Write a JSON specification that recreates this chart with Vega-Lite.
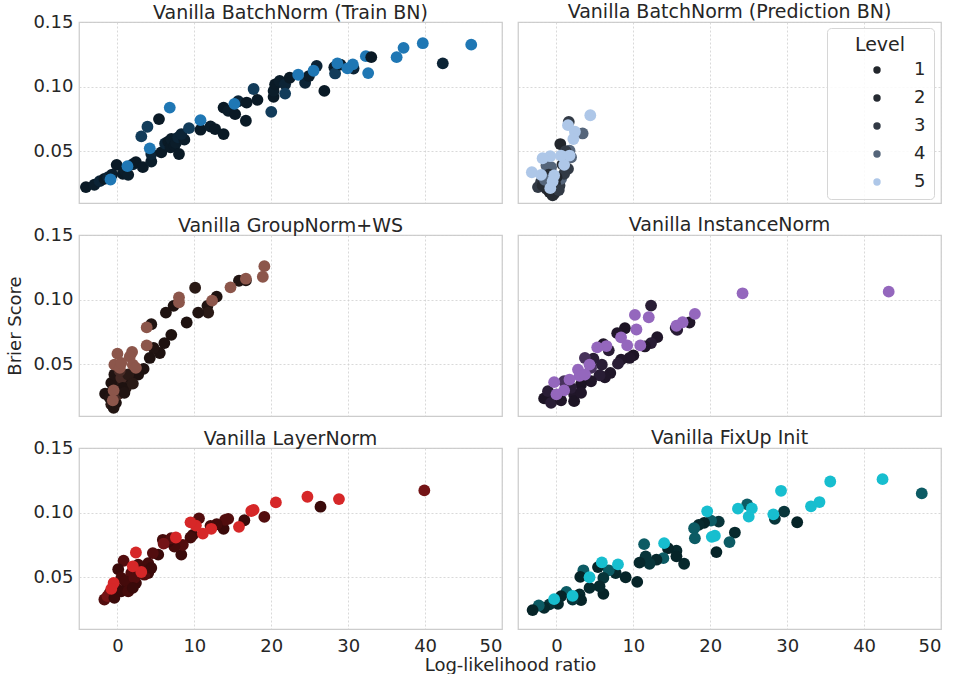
{
"$schema": "https://vega.github.io/schema/vega-lite/v6.json",
"background": "white",
"padding": {"left": 6, "top": 2, "right": 5, "bottom": 0},
"datasets": {
"pts": [
{"panel":"P1","x":-4.1,"y":0.0223,"level":1},{"panel":"P1","x":-3.0,"y":0.0241,"level":2},{"panel":"P1","x":-2.3,"y":0.0269,"level":3},{"panel":"P1","x":-1.7,"y":0.0287,"level":1},{"panel":"P1","x":-1.2,"y":0.030,"level":3},{"panel":"P1","x":-0.7,"y":0.032,"level":2},{"panel":"P1","x":-0.1,"y":0.0395,"level":1},{"panel":"P1","x":0.7,"y":0.0326,"level":1},{"panel":"P1","x":1.0,"y":0.035,"level":2},{"panel":"P1","x":1.4,"y":0.0318,"level":2},{"panel":"P1","x":2.0,"y":0.04,"level":3},{"panel":"P1","x":2.4,"y":0.0415,"level":1},{"panel":"P1","x":3.3,"y":0.0377,"level":1},{"panel":"P1","x":4.4,"y":0.0421,"level":2},{"panel":"P1","x":4.4,"y":0.0479,"level":3},{"panel":"P1","x":3.1,"y":0.0615,"level":4},{"panel":"P1","x":3.9,"y":0.069,"level":4},{"panel":"P1","x":5.4,"y":0.0749,"level":1},{"panel":"P1","x":5.7,"y":0.0492,"level":1},{"panel":"P1","x":6.2,"y":0.056,"level":3},{"panel":"P1","x":6.6,"y":0.0575,"level":1},{"panel":"P1","x":6.9,"y":0.053,"level":1},{"panel":"P1","x":7.0,"y":0.0595,"level":2},{"panel":"P1","x":7.4,"y":0.0544,"level":1},{"panel":"P1","x":7.6,"y":0.0565,"level":2},{"panel":"P1","x":7.9,"y":0.0608,"level":3},{"panel":"P1","x":8.0,"y":0.0479,"level":1},{"panel":"P1","x":8.7,"y":0.059,"level":2},{"panel":"P1","x":8.3,"y":0.0633,"level":3},{"panel":"P1","x":9.3,"y":0.0679,"level":4},{"panel":"P1","x":10.8,"y":0.0667,"level":1},{"panel":"P1","x":12.1,"y":0.0692,"level":2},{"panel":"P1","x":12.7,"y":0.0672,"level":1},{"panel":"P1","x":13.8,"y":0.0633,"level":1},{"panel":"P1","x":13.8,"y":0.0838,"level":1},{"panel":"P1","x":14.4,"y":0.0813,"level":2},{"panel":"P1","x":15.3,"y":0.0787,"level":1},{"panel":"P1","x":15.7,"y":0.0887,"level":3},{"panel":"P1","x":16.7,"y":0.0736,"level":1},{"panel":"P1","x":16.8,"y":0.0877,"level":1},{"panel":"P1","x":17.7,"y":0.0982,"level":4},{"panel":"P1","x":18.2,"y":0.0898,"level":1},{"panel":"P1","x":20.0,"y":0.0805,"level":4},{"panel":"P1","x":20.3,"y":0.0921,"level":1},{"panel":"P1","x":20.3,"y":0.0967,"level":2},{"panel":"P1","x":20.5,"y":0.1018,"level":1},{"panel":"P1","x":21.1,"y":0.1044,"level":2},{"panel":"P1","x":21.8,"y":0.1018,"level":3},{"panel":"P1","x":21.8,"y":0.0946,"level":4},{"panel":"P1","x":22.4,"y":0.1069,"level":1},{"panel":"P1","x":24.4,"y":0.103,"level":3},{"panel":"P1","x":24.9,"y":0.1082,"level":2},{"panel":"P1","x":25.9,"y":0.116,"level":3},{"panel":"P1","x":26.9,"y":0.0967,"level":1},{"panel":"P1","x":28.2,"y":0.115,"level":2},{"panel":"P1","x":28.3,"y":0.1102,"level":4},{"panel":"P1","x":29.0,"y":0.117,"level":1},{"panel":"P1","x":30.7,"y":0.114,"level":3},{"panel":"P1","x":42.3,"y":0.118,"level":3},
{"panel":"P1","x":46.0,"y":0.1325,"level":5},{"panel":"P1","x":39.7,"y":0.1336,"level":5},{"panel":"P1","x":37.2,"y":0.130,"level":5},{"panel":"P1","x":36.3,"y":0.1228,"level":5},{"panel":"P1","x":32.6,"y":0.1105,"level":5},{"panel":"P1","x":32.3,"y":0.1236,"level":5},{"panel":"P1","x":30.6,"y":0.1172,"level":5},{"panel":"P1","x":29.9,"y":0.1141,"level":5},{"panel":"P1","x":28.6,"y":0.118,"level":5},{"panel":"P1","x":25.5,"y":0.1123,"level":5},{"panel":"P1","x":23.5,"y":0.1092,"level":5},{"panel":"P1","x":15.2,"y":0.0867,"level":5},{"panel":"P1","x":10.8,"y":0.0741,"level":5},{"panel":"P1","x":6.8,"y":0.0838,"level":5},{"panel":"P1","x":4.2,"y":0.0523,"level":5},{"panel":"P1","x":1.3,"y":0.0385,"level":5},{"panel":"P1","x":-0.9,"y":0.0282,"level":5},
{"panel":"P1","x":33.0,"y":0.1228,"level":1},

{"panel":"P2","x":1.6,"y":0.0728,"level":3},{"panel":"P2","x":3.4,"y":0.0638,"level":4},{"panel":"P2","x":0.5,"y":0.0556,"level":1},{"panel":"P2","x":1.7,"y":0.0505,"level":4},{"panel":"P2","x":1.3,"y":0.0441,"level":3},{"panel":"P2","x":-0.7,"y":0.0377,"level":4},{"panel":"P2","x":-1.3,"y":0.039,"level":4},{"panel":"P2","x":-2.0,"y":0.0262,"level":3},{"panel":"P2","x":-1.3,"y":0.021,"level":2},{"panel":"P2","x":-0.3,"y":0.0172,"level":2},{"panel":"P2","x":0.4,"y":0.0236,"level":3},{"panel":"P2","x":0.6,"y":0.0287,"level":4},{"panel":"P2","x":-2.4,"y":0.0223,"level":3},{"panel":"P2","x":1.5,"y":0.0364,"level":3},{"panel":"P2","x":1.9,"y":0.0454,"level":4},{"panel":"P2","x":1.0,"y":0.0326,"level":3},{"panel":"P2","x":-0.9,"y":0.0185,"level":1},{"panel":"P2","x":-1.8,"y":0.0236,"level":2},{"panel":"P2","x":-0.5,"y":0.016,"level":2},{"panel":"P2","x":0.0,"y":0.030,"level":1},{"panel":"P2","x":-1.0,"y":0.032,"level":2},{"panel":"P2","x":0.8,"y":0.040,"level":2},{"panel":"P2","x":-0.2,"y":0.025,"level":1},{"panel":"P2","x":1.2,"y":0.050,"level":3},{"panel":"P2","x":-1.5,"y":0.028,"level":4},{"panel":"P2","x":0.3,"y":0.020,"level":3},
{"panel":"P2","x":4.4,"y":0.0779,"level":5},{"panel":"P2","x":1.5,"y":0.0702,"level":5},{"panel":"P2","x":2.4,"y":0.0651,"level":5},{"panel":"P2","x":2.2,"y":0.0595,"level":5},{"panel":"P2","x":1.0,"y":0.0395,"level":5},{"panel":"P2","x":0.6,"y":0.0467,"level":5},{"panel":"P2","x":-0.8,"y":0.0462,"level":5},{"panel":"P2","x":-1.8,"y":0.0446,"level":5},{"panel":"P2","x":-3.2,"y":0.0338,"level":5},{"panel":"P2","x":-2.0,"y":0.0318,"level":5},{"panel":"P2","x":-0.3,"y":0.0313,"level":5},{"panel":"P2","x":-0.5,"y":0.0267,"level":5},{"panel":"P2","x":-0.8,"y":0.0215,"level":5},{"panel":"P2","x":1.7,"y":0.0467,"level":5},

{"panel":"P3","x":16.7,"y":0.1149,"level":1},{"panel":"P3","x":15.8,"y":0.1146,"level":2},{"panel":"P3","x":10.1,"y":0.1092,"level":3},{"panel":"P3","x":12.9,"y":0.1023,"level":1},{"panel":"P3","x":11.7,"y":0.0952,"level":2},{"panel":"P3","x":11.8,"y":0.09,"level":3},{"panel":"P3","x":10.5,"y":0.09,"level":2},{"panel":"P3","x":7.3,"y":0.0952,"level":1},{"panel":"P3","x":6.3,"y":0.09,"level":1},{"panel":"P3","x":9.0,"y":0.0823,"level":1},{"panel":"P3","x":7.0,"y":0.0728,"level":1},{"panel":"P3","x":6.1,"y":0.0664,"level":1},{"panel":"P3","x":5.5,"y":0.0587,"level":1},{"panel":"P3","x":4.7,"y":0.0626,"level":2},{"panel":"P3","x":4.4,"y":0.081,"level":2},{"panel":"P3","x":4.2,"y":0.0549,"level":1},{"panel":"P3","x":3.4,"y":0.0464,"level":1},{"panel":"P3","x":2.7,"y":0.0421,"level":1},{"panel":"P3","x":1.6,"y":0.0369,"level":2},{"panel":"P3","x":1.1,"y":0.0318,"level":3},{"panel":"P3","x":0.05,"y":0.0369,"level":3},{"panel":"P3","x":-0.8,"y":0.0356,"level":1},{"panel":"P3","x":-0.4,"y":0.0421,"level":2},{"panel":"P3","x":0.5,"y":0.0395,"level":4},{"panel":"P3","x":-1.6,"y":0.0272,"level":1},{"panel":"P3","x":-1.0,"y":0.0241,"level":2},{"panel":"P3","x":-0.8,"y":0.019,"level":3},{"panel":"P3","x":-0.2,"y":0.0202,"level":1},{"panel":"P3","x":0.05,"y":0.0267,"level":4},{"panel":"P3","x":0.7,"y":0.0318,"level":1},{"panel":"P3","x":1.4,"y":0.0421,"level":3},{"panel":"P3","x":-0.5,"y":0.0164,"level":2},{"panel":"P3","x":0.3,"y":0.045,"level":4},{"panel":"P3","x":-0.6,"y":0.030,"level":2},{"panel":"P3","x":2.0,"y":0.035,"level":3},{"panel":"P3","x":0.9,"y":0.028,"level":2},
{"panel":"P3","x":19.1,"y":0.1259,"level":5},{"panel":"P3","x":18.9,"y":0.1177,"level":5},{"panel":"P3","x":16.7,"y":0.1162,"level":5},{"panel":"P3","x":14.7,"y":0.1095,"level":5},{"panel":"P3","x":12.3,"y":0.0992,"level":5},{"panel":"P3","x":8.0,"y":0.1018,"level":5},{"panel":"P3","x":8.0,"y":0.0979,"level":5},{"panel":"P3","x":3.8,"y":0.0785,"level":5},{"panel":"P3","x":3.8,"y":0.0646,"level":5},{"panel":"P3","x":1.9,"y":0.0595,"level":5},{"panel":"P3","x":1.6,"y":0.0559,"level":5},{"panel":"P3","x":0.0,"y":0.0582,"level":5},{"panel":"P3","x":2.0,"y":0.0497,"level":5},{"panel":"P3","x":2.4,"y":0.0472,"level":5},{"panel":"P3","x":-0.4,"y":0.0497,"level":5},{"panel":"P3","x":0.3,"y":0.0472,"level":5},{"panel":"P3","x":-0.5,"y":0.0298,"level":5},{"panel":"P3","x":-0.6,"y":0.0221,"level":5},{"panel":"P3","x":0.5,"y":0.051,"level":5},

{"panel":"P4","x":12.3,"y":0.0954,"level":3},{"panel":"P4","x":17.3,"y":0.0823,"level":2},{"panel":"P4","x":15.7,"y":0.0767,"level":3},{"panel":"P4","x":15.5,"y":0.078,"level":3},{"panel":"P4","x":8.9,"y":0.0779,"level":1},{"panel":"P4","x":7.9,"y":0.0741,"level":2},{"panel":"P4","x":13.1,"y":0.071,"level":2},{"panel":"P4","x":12.3,"y":0.0664,"level":3},{"panel":"P4","x":11.5,"y":0.0638,"level":2},{"panel":"P4","x":10.0,"y":0.0569,"level":1},{"panel":"P4","x":9.5,"y":0.0549,"level":2},{"panel":"P4","x":8.4,"y":0.0536,"level":2},{"panel":"P4","x":8.0,"y":0.0505,"level":3},{"panel":"P4","x":7.0,"y":0.0433,"level":2},{"panel":"P4","x":6.3,"y":0.04,"level":2},{"panel":"P4","x":5.9,"y":0.0497,"level":3},{"panel":"P4","x":5.6,"y":0.0415,"level":3},{"panel":"P4","x":6.8,"y":0.0608,"level":3},{"panel":"P4","x":6.1,"y":0.0656,"level":2},{"panel":"P4","x":4.8,"y":0.0544,"level":3},{"panel":"P4","x":3.7,"y":0.0549,"level":4},{"panel":"P4","x":4.5,"y":0.0472,"level":4},{"panel":"P4","x":4.5,"y":0.0369,"level":2},{"panel":"P4","x":3.2,"y":0.0344,"level":1},{"panel":"P4","x":2.3,"y":0.0267,"level":2},{"panel":"P4","x":1.9,"y":0.0318,"level":3},{"panel":"P4","x":1.0,"y":0.0369,"level":4},{"panel":"P4","x":0.2,"y":0.0254,"level":4},{"panel":"P4","x":-0.7,"y":0.0228,"level":2},{"panel":"P4","x":-1.6,"y":0.0236,"level":1},{"panel":"P4","x":-1.1,"y":0.0292,"level":3},{"panel":"P4","x":-0.7,"y":0.0202,"level":3},{"panel":"P4","x":0.6,"y":0.0221,"level":2},{"panel":"P4","x":2.3,"y":0.0215,"level":1},{"panel":"P4","x":3.2,"y":0.0279,"level":2},
{"panel":"P4","x":43.2,"y":0.1062,"level":5},{"panel":"P4","x":24.2,"y":0.1049,"level":5},{"panel":"P4","x":18.0,"y":0.089,"level":5},{"panel":"P4","x":16.4,"y":0.0825,"level":5},{"panel":"P4","x":15.6,"y":0.0798,"level":5},{"panel":"P4","x":10.2,"y":0.0882,"level":5},{"panel":"P4","x":12.0,"y":0.0864,"level":5},{"panel":"P4","x":10.4,"y":0.0769,"level":5},{"panel":"P4","x":8.4,"y":0.0708,"level":5},{"panel":"P4","x":9.2,"y":0.0646,"level":5},{"panel":"P4","x":10.9,"y":0.0646,"level":5},{"panel":"P4","x":6.5,"y":0.0641,"level":5},{"panel":"P4","x":5.3,"y":0.0631,"level":5},{"panel":"P4","x":4.3,"y":0.0497,"level":5},{"panel":"P4","x":3.0,"y":0.041,"level":5},{"panel":"P4","x":2.8,"y":0.0459,"level":5},{"panel":"P4","x":1.7,"y":0.0382,"level":5},{"panel":"P4","x":-0.3,"y":0.0362,"level":5},{"panel":"P4","x":1.0,"y":0.0298,"level":5},{"panel":"P4","x":3.7,"y":0.0421,"level":5},{"panel":"P4","x":0.0,"y":0.0267,"level":5},

{"panel":"P5","x":39.9,"y":0.1172,"level":4},{"panel":"P5","x":26.4,"y":0.1046,"level":1},{"panel":"P5","x":19.1,"y":0.0967,"level":3},{"panel":"P5","x":16.5,"y":0.0941,"level":1},{"panel":"P5","x":13.8,"y":0.0875,"level":1},{"panel":"P5","x":14.4,"y":0.0952,"level":3},{"panel":"P5","x":14.0,"y":0.0944,"level":3},{"panel":"P5","x":12.9,"y":0.091,"level":2},{"panel":"P5","x":12.1,"y":0.0898,"level":2},{"panel":"P5","x":10.6,"y":0.0956,"level":3},{"panel":"P5","x":9.8,"y":0.0828,"level":1},{"panel":"P5","x":9.5,"y":0.0808,"level":2},{"panel":"P5","x":8.3,"y":0.0675,"level":1},{"panel":"P5","x":8.5,"y":0.0751,"level":3},{"panel":"P5","x":7.4,"y":0.0738,"level":2},{"panel":"P5","x":6.6,"y":0.0777,"level":1},{"panel":"P5","x":5.9,"y":0.079,"level":2},{"panel":"P5","x":7.0,"y":0.0802,"level":3},{"panel":"P5","x":6.0,"y":0.076,"level":4},{"panel":"P5","x":5.3,"y":0.0675,"level":1},{"panel":"P5","x":4.6,"y":0.0687,"level":3},{"panel":"P5","x":4.0,"y":0.061,"level":2},{"panel":"P5","x":4.0,"y":0.0533,"level":1},{"panel":"P5","x":3.5,"y":0.052,"level":3},{"panel":"P5","x":2.7,"y":0.0598,"level":2},{"panel":"P5","x":1.8,"y":0.0533,"level":3},{"panel":"P5","x":1.4,"y":0.0456,"level":4},{"panel":"P5","x":2.4,"y":0.0456,"level":1},{"panel":"P5","x":0.8,"y":0.0628,"level":3},{"panel":"P5","x":0.1,"y":0.0562,"level":1},{"panel":"P5","x":0.5,"y":0.0495,"level":2},{"panel":"P5","x":1.0,"y":0.047,"level":2},{"panel":"P5","x":-0.2,"y":0.0418,"level":3},{"panel":"P5","x":0.5,"y":0.0392,"level":1},{"panel":"P5","x":-1.0,"y":0.0379,"level":2},{"panel":"P5","x":-1.7,"y":0.0328,"level":3},{"panel":"P5","x":-1.3,"y":0.0354,"level":4},{"panel":"P5","x":-0.4,"y":0.0341,"level":1},{"panel":"P5","x":1.4,"y":0.0392,"level":2},{"panel":"P5","x":2.2,"y":0.0495,"level":3},{"panel":"P5","x":3.1,"y":0.0559,"level":2},{"panel":"P5","x":4.4,"y":0.0572,"level":1},{"panel":"P5","x":2.0,"y":0.0418,"level":1},
{"panel":"P5","x":28.8,"y":0.1105,"level":5},{"panel":"P5","x":24.7,"y":0.1123,"level":5},{"panel":"P5","x":20.6,"y":0.1079,"level":5},{"panel":"P5","x":17.7,"y":0.1021,"level":5},{"panel":"P5","x":17.4,"y":0.1013,"level":5},{"panel":"P5","x":15.8,"y":0.089,"level":5},{"panel":"P5","x":12.2,"y":0.0875,"level":5},{"panel":"P5","x":11.1,"y":0.0838,"level":5},{"panel":"P5","x":10.2,"y":0.09,"level":5},{"panel":"P5","x":9.5,"y":0.0925,"level":5},{"panel":"P5","x":7.6,"y":0.0808,"level":5},{"panel":"P5","x":2.4,"y":0.0692,"level":5},{"panel":"P5","x":3.1,"y":0.0541,"level":5},{"panel":"P5","x":2.0,"y":0.0585,"level":5},{"panel":"P5","x":-0.5,"y":0.0456,"level":5},{"panel":"P5","x":-0.8,"y":0.041,"level":5},

{"panel":"P6","x":47.5,"y":0.1149,"level":4},{"panel":"P6","x":31.3,"y":0.0926,"level":1},{"panel":"P6","x":29.6,"y":0.1008,"level":3},{"panel":"P6","x":28.4,"y":0.0952,"level":3},{"panel":"P6","x":24.8,"y":0.1064,"level":4},{"panel":"P6","x":23.2,"y":0.0846,"level":2},{"panel":"P6","x":22.5,"y":0.0772,"level":4},{"panel":"P6","x":20.8,"y":0.0695,"level":1},{"panel":"P6","x":21.1,"y":0.0931,"level":3},{"panel":"P6","x":20.1,"y":0.0938,"level":4},{"panel":"P6","x":19.2,"y":0.0921,"level":1},{"panel":"P6","x":18.5,"y":0.0905,"level":2},{"panel":"P6","x":17.9,"y":0.0879,"level":4},{"panel":"P6","x":18.0,"y":0.0802,"level":4},{"panel":"P6","x":16.6,"y":0.0605,"level":2},{"panel":"P6","x":15.6,"y":0.0705,"level":2},{"panel":"P6","x":15.6,"y":0.0662,"level":1},{"panel":"P6","x":14.5,"y":0.0725,"level":1},{"panel":"P6","x":13.9,"y":0.0648,"level":4},{"panel":"P6","x":13.0,"y":0.0636,"level":2},{"panel":"P6","x":12.1,"y":0.0605,"level":3},{"panel":"P6","x":11.6,"y":0.0662,"level":3},{"panel":"P6","x":11.4,"y":0.0756,"level":4},{"panel":"P6","x":10.8,"y":0.0613,"level":2},{"panel":"P6","x":10.5,"y":0.0464,"level":1},{"panel":"P6","x":9.0,"y":0.05,"level":1},{"panel":"P6","x":7.7,"y":0.0533,"level":2},{"panel":"P6","x":6.8,"y":0.0554,"level":4},{"panel":"P6","x":6.1,"y":0.0495,"level":3},{"panel":"P6","x":6.1,"y":0.0372,"level":1},{"panel":"P6","x":5.6,"y":0.0431,"level":2},{"panel":"P6","x":5.4,"y":0.0579,"level":1},{"panel":"P6","x":3.5,"y":0.0554,"level":4},{"panel":"P6","x":3.1,"y":0.0503,"level":1},{"panel":"P6","x":4.3,"y":0.0418,"level":2},{"panel":"P6","x":3.0,"y":0.0367,"level":2},{"panel":"P6","x":3.2,"y":0.0323,"level":1},{"panel":"P6","x":2.1,"y":0.0328,"level":3},{"panel":"P6","x":1.3,"y":0.0387,"level":4},{"panel":"P6","x":0.6,"y":0.0354,"level":1},{"panel":"P6","x":0.2,"y":0.0295,"level":2},{"panel":"P6","x":-0.9,"y":0.029,"level":3},{"panel":"P6","x":-1.6,"y":0.0264,"level":2},{"panel":"P6","x":-2.3,"y":0.0282,"level":4},{"panel":"P6","x":-3.1,"y":0.0246,"level":1},
{"panel":"P6","x":42.4,"y":0.1259,"level":5},{"panel":"P6","x":35.6,"y":0.1241,"level":5},{"panel":"P6","x":29.2,"y":0.1169,"level":5},{"panel":"P6","x":34.2,"y":0.1082,"level":5},{"panel":"P6","x":33.1,"y":0.1049,"level":5},{"panel":"P6","x":28.2,"y":0.0987,"level":5},{"panel":"P6","x":25.0,"y":0.0969,"level":5},{"panel":"P6","x":25.4,"y":0.1033,"level":5},{"panel":"P6","x":23.6,"y":0.1031,"level":5},{"panel":"P6","x":19.6,"y":0.101,"level":5},{"panel":"P6","x":20.6,"y":0.0821,"level":5},{"panel":"P6","x":20.2,"y":0.0813,"level":5},{"panel":"P6","x":14.0,"y":0.0764,"level":5},{"panel":"P6","x":8.0,"y":0.06,"level":5},{"panel":"P6","x":5.9,"y":0.0615,"level":5},{"panel":"P6","x":4.3,"y":0.05,"level":5},{"panel":"P6","x":2.1,"y":0.0356,"level":5},{"panel":"P6","x":-0.3,"y":0.0331,"level":5}
]
},
"data": {"name": "pts"},
"columns": 2,
"bounds": "flush",
"spacing": {"row": 32, "column": 16},
"resolve": {"scale": {"color": "independent"}, "legend": {"color": "independent"}},
"concat": [
{
 "title": {"text": "Vanilla BatchNorm (Train BN)", "offset": -10},
 "width": 423, "height": 181,
 "transform": [{"filter": "datum.panel === 'P1'"}],
 "mark": {"type": "circle", "size": 140, "opacity": 1},
 "encoding": {
  "x": {"field": "x", "type": "quantitative", "scale": {"domain": [-5, 50], "nice": false, "zero": false}, "axis": {"values": [0, 10, 20, 30, 40, 50], "labels": false, "title": null}},
  "y": {"field": "y", "type": "quantitative", "scale": {"domain": [0.01, 0.15], "nice": false, "zero": false}, "axis": {"values": [0.05, 0.1, 0.15], "format": ".2f", "labelPadding": 6, "title": null}},
  "color": {"field": "level", "type": "ordinal", "scale": {"domain": [1, 2, 3, 4, 5], "range": ["#0a1a26", "#0b1d2a", "#0c2436", "#123c5a", "#1f77b4"]}, "legend": null}
 }
},
{
 "title": {"text": "Vanilla BatchNorm (Prediction BN)", "offset": 0},
 "width": 423, "height": 181,
 "transform": [{"filter": "datum.panel === 'P2'"}],
 "mark": {"type": "circle", "size": 140, "opacity": 1},
 "encoding": {
  "x": {"field": "x", "type": "quantitative", "scale": {"domain": [-5, 50], "nice": false, "zero": false}, "axis": {"values": [0, 10, 20, 30, 40, 50], "labels": false, "title": null}},
  "y": {"field": "y", "type": "quantitative", "scale": {"domain": [0.01, 0.15], "nice": false, "zero": false}, "axis": {"values": [0.05, 0.1, 0.15], "labels": false, "title": null}},
  "color": {"field": "level", "type": "ordinal", "scale": {"domain": [1, 2, 3, 4, 5], "range": ["#22262c", "#262b32", "#323a45", "#55657a", "#aec7e8"]},
   "legend": {"title": "Level", "orient": "none", "legendX": 309, "legendY": 6, "titleFontSize": 19, "titleFontWeight": "normal", "titleColor": "#262626", "titleAnchor": "middle", "titlePadding": 6, "labelFontSize": 18, "labelColor": "#262626", "symbolType": "circle", "symbolSize": 55, "symbolOffset": 33, "labelOffset": 28, "rowPadding": 10, "padding": 8, "strokeColor": "#d6d6d6", "fillColor": "rgba(255,255,255,0.85)", "cornerRadius": 4}}
 }
},
{
 "title": {"text": "Vanilla GroupNorm+WS", "offset": -10},
 "width": 423, "height": 181,
 "transform": [{"filter": "datum.panel === 'P3'"}],
 "mark": {"type": "circle", "size": 140, "opacity": 1},
 "encoding": {
  "x": {"field": "x", "type": "quantitative", "scale": {"domain": [-5, 50], "nice": false, "zero": false}, "axis": {"values": [0, 10, 20, 30, 40, 50], "labels": false, "title": null}},
  "y": {"field": "y", "type": "quantitative", "scale": {"domain": [0.01, 0.15], "nice": false, "zero": false}, "axis": {"values": [0.05, 0.1, 0.15], "format": ".2f", "labelPadding": 6, "title": "Brier Score", "titlePadding": 8}},
  "color": {"field": "level", "type": "ordinal", "scale": {"domain": [1, 2, 3, 4, 5], "range": ["#1e1210", "#211412", "#2a1a16", "#462a25", "#8c564b"]}, "legend": null}
 }
},
{
 "title": {"text": "Vanilla InstanceNorm", "offset": 0},
 "width": 423, "height": 181,
 "transform": [{"filter": "datum.panel === 'P4'"}],
 "mark": {"type": "circle", "size": 140, "opacity": 1},
 "encoding": {
  "x": {"field": "x", "type": "quantitative", "scale": {"domain": [-5, 50], "nice": false, "zero": false}, "axis": {"values": [0, 10, 20, 30, 40, 50], "labels": false, "title": null}},
  "y": {"field": "y", "type": "quantitative", "scale": {"domain": [0.01, 0.15], "nice": false, "zero": false}, "axis": {"values": [0.05, 0.1, 0.15], "labels": false, "title": null}},
  "color": {"field": "level", "type": "ordinal", "scale": {"domain": [1, 2, 3, 4, 5], "range": ["#1c1424", "#201629", "#291d35", "#47325b", "#9467bd"]}, "legend": null}
 }
},
{
 "title": {"text": "Vanilla LayerNorm", "offset": -10},
 "width": 423, "height": 181,
 "transform": [{"filter": "datum.panel === 'P5'"}],
 "mark": {"type": "circle", "size": 140, "opacity": 1},
 "encoding": {
  "x": {"field": "x", "type": "quantitative", "scale": {"domain": [-5, 50], "nice": false, "zero": false}, "axis": {"values": [0, 10, 20, 30, 40, 50], "labelPadding": 8, "title": "Log-likelihood ratio", "titleX": 431, "titleAlign": "center", "titlePadding": 1}},
  "y": {"field": "y", "type": "quantitative", "scale": {"domain": [0.01, 0.15], "nice": false, "zero": false}, "axis": {"values": [0.05, 0.1, 0.15], "format": ".2f", "labelPadding": 6, "title": null}},
  "color": {"field": "level", "type": "ordinal", "scale": {"domain": [1, 2, 3, 4, 5], "range": ["#3a0a0a", "#440b0b", "#520d0e", "#741416", "#d62728"]}, "legend": null}
 }
},
{
 "title": {"text": "Vanilla FixUp Init", "offset": 0},
 "width": 423, "height": 181,
 "transform": [{"filter": "datum.panel === 'P6'"}],
 "mark": {"type": "circle", "size": 140, "opacity": 1},
 "encoding": {
  "x": {"field": "x", "type": "quantitative", "scale": {"domain": [-5, 50], "nice": false, "zero": false}, "axis": {"values": [0, 10, 20, 30, 40, 50], "labelPadding": 8, "title": null}},
  "y": {"field": "y", "type": "quantitative", "scale": {"domain": [0.01, 0.15], "nice": false, "zero": false}, "axis": {"values": [0.05, 0.1, 0.15], "labels": false, "title": null}},
  "color": {"field": "level", "type": "ordinal", "scale": {"domain": [1, 2, 3, 4, 5], "range": ["#062428", "#07292d", "#08353a", "#0c5b64", "#17becf"]}, "legend": null}
 }
}
],
"config": {
 "font": "DejaVu Sans",
 "view": {"stroke": "#cccccc", "strokeWidth": 1.25},
 "axis": {"grid": true, "gridColor": "#cfcfcf", "gridDash": [2, 2], "gridWidth": 0.8, "domain": false, "ticks": false, "labelFontSize": 18, "labelColor": "#262626", "titleFontSize": 18, "titleFontWeight": "normal", "titleColor": "#262626"},
 "title": {"fontSize": 19, "fontWeight": "normal", "color": "#262626"}
}
}
